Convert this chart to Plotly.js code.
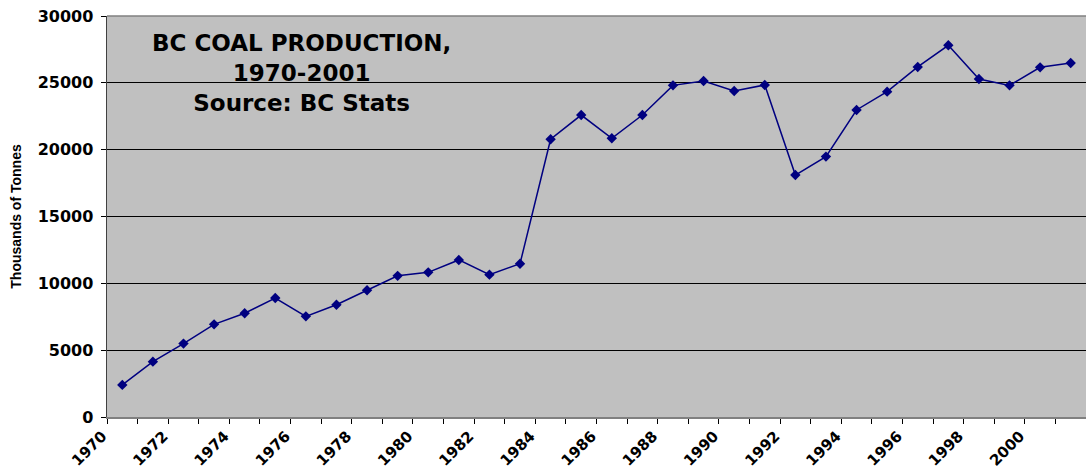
<!DOCTYPE html>
<html>
<head>
<meta charset="utf-8">
<script src="https://cdn.plot.ly/plotly-3.0.1.min.js"></script>
<style>html,body{margin:0;padding:0;background:#fff;}#chart{width:1086px;height:470px;}</style>
</head>
<body>
<div id="chart"></div>
<script>
const years = [1970,1971,1972,1973,1974,1975,1976,1977,1978,1979,1980,1981,1982,1983,1984,1985,1986,1987,1988,1989,1990,1991,1992,1993,1994,1995,1996,1997,1998,1999,2000,2001];
const production = [2400,4140,5490,6930,7760,8900,7530,8400,9480,10560,10820,11750,10650,11470,20780,22590,20850,22590,24810,25140,24390,24840,18100,19480,22970,24340,26190,27810,25290,24810,26160,26480];
const xTickLabels = ["1970","1972","1974","1976","1978","1980","1982","1984","1986","1988","1990","1992","1994","1996","1998","2000"];
const xTickVals = xTickLabels.map(Number);
const yTickVals = [0,5000,10000,15000,20000,25000,30000];
const yTickLabels = ["0","5000","10000","15000","20000","25000","30000"];
const titleLines = ["BC COAL PRODUCTION,","1970-2001","Source: BC Stats"];

const wide = '"DejaVu Sans", Verdana, sans-serif';
const arial = 'Arial, "Liberation Sans", sans-serif';

const trace = {
  x: years, y: production, type: 'scatter', mode: 'lines+markers',
  line: {color: '#000080', width: 1.5},
  marker: {symbol: 'diamond', size: 8, color: '#000080'},
  hoverinfo: 'x+y'
};

const layout = {
  width: 1086, height: 470,
  margin: {l: 107, r: 0, t: 16, b: 53},
  paper_bgcolor: '#ffffff',
  plot_bgcolor: '#c0c0c0',
  showlegend: false,
  font: {family: arial, color: '#000'},
  xaxis: {
    range: [1969.5, 2001.5],
    tickvals: xTickVals, ticktext: xTickLabels,
    tickangle: -45,
    tickfont: {size: 15, family: wide, weight: 'bold', color: '#000'},
    ticks: '', showgrid: false, zeroline: false,
    ticklabelstandoff: 3, ticklabelshift: -20,
    showline: true, linecolor: '#808080', linewidth: 1.5,
    minor: {tick0: 1969.5, dtick: 1, ticks: 'outside', ticklen: 5, tickcolor: '#000', tickwidth: 1, showgrid: false}
  },
  yaxis: {
    range: [0, 30000],
    tickvals: yTickVals, ticktext: yTickLabels,
    tickfont: {size: 16, family: wide, weight: 'bold', color: '#000'},
    ticks: 'outside', ticklen: 5, tickcolor: '#000',
    ticklabelstandoff: 4,
    showgrid: true, gridcolor: '#000', gridwidth: 1,
    zeroline: false,
    showline: true, linecolor: '#404040', linewidth: 1.5,
    title: {text: 'Thousands of Tonnes', font: {size: 14, family: arial, weight: 'bold', color: '#000'}, standoff: 12}
  },
  shapes: [{type: 'line', xref: 'paper', yref: 'paper', x0: 0, x1: 1, y0: 1, y1: 1, line: {color: '#808080', width: 1.5}}],
  annotations: [{
    xref: 'x', yref: 'y', x: 1975.87, y: 25700,
    text: titleLines.join('<br>'), showarrow: false, align: 'center',
    font: {size: 23, weight: 'bold', family: wide, color: '#000'}
  }]
};

Plotly.newPlot('chart', [trace], layout, {displayModeBar: false, staticPlot: true});
</script>
</body>
</html>
